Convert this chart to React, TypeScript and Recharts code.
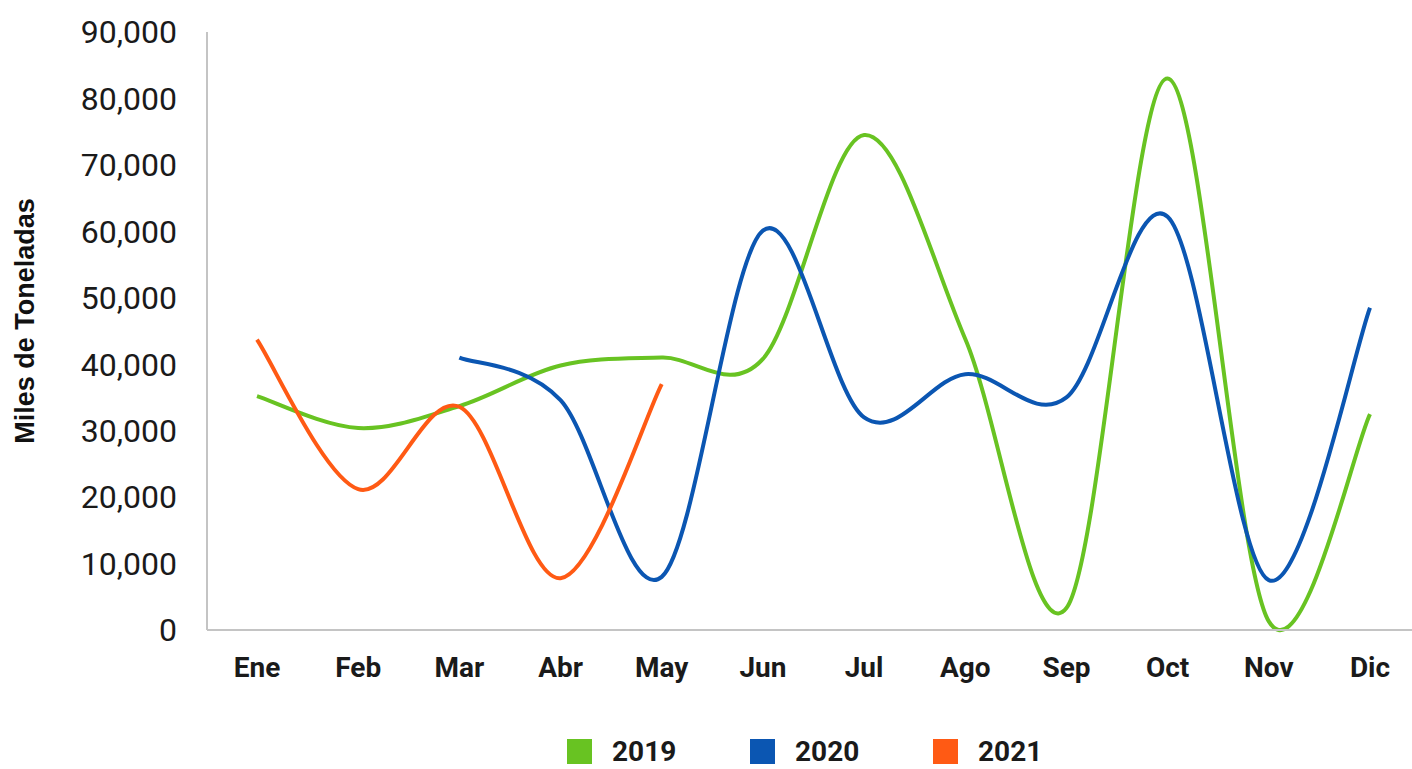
import { LineChart, Line, XAxis, YAxis, Legend } from 'recharts';

const months = ['Ene', 'Feb', 'Mar', 'Abr', 'May', 'Jun', 'Jul', 'Ago', 'Sep', 'Oct', 'Nov', 'Dic'];
const serie2019 = [35200, 30400, 33700, 39800, 41000, 40800, 74500, 43800, 3300, 83000, 1300, 32500];
const serie2020 = [null, null, 41000, 34600, 8000, 60100, 32000, 38500, 35000, 62200, 7500, 48500];
const serie2021 = [43700, 21200, 33600, 7800, 37000, null, null, null, null, null, null, null];
const yTicks = [0, 10000, 20000, 30000, 40000, 50000, 60000, 70000, 80000, 90000];

const series = [
  { key: 'y2019', name: '2019', color: '#68c322' },
  { key: 'y2020', name: '2020', color: '#0b56b2' },
  { key: 'y2021', name: '2021', color: '#ff5a14' },
];

const data = months.map((m, i) => ({
  month: m,
  y2019: serie2019[i],
  y2020: serie2020[i],
  y2021: serie2021[i],
}));

// Excel-like smoothing (Catmull-Rom, control points at 1/6)
const smoothCurve = (context: any) => {
  let pts: number[][] = [];
  return {
    areaStart() {},
    areaEnd() {},
    lineStart() {
      pts = [];
    },
    point(x: number, y: number) {
      pts.push([+x, +y]);
    },
    lineEnd() {
      const n = pts.length;
      if (!n) return;
      context.moveTo(pts[0][0], pts[0][1]);
      for (let i = 0; i < n - 1; i++) {
        const p0 = pts[Math.max(i - 1, 0)];
        const p1 = pts[i];
        const p2 = pts[i + 1];
        const p3 = pts[Math.min(i + 2, n - 1)];
        context.bezierCurveTo(
          p1[0] + (p2[0] - p0[0]) / 6,
          p1[1] + (p2[1] - p0[1]) / 6,
          p2[0] - (p3[0] - p1[0]) / 6,
          p2[1] - (p3[1] - p1[1]) / 6,
          p2[0],
          p2[1]
        );
      }
    },
  };
};

const LegendBox = () => (
  <div style={{ display: 'flex', alignItems: 'center', height: 36, paddingLeft: 567 }}>
    {series.map((s, i) => (
      <div key={s.key} style={{ display: 'flex', alignItems: 'center', marginLeft: i === 0 ? 0 : 73 }}>
        <span style={{ width: 25, height: 25, background: s.color, display: 'inline-block' }} />
        <span
          style={{
            marginLeft: 20,
            fontFamily: 'Roboto, sans-serif',
            fontWeight: 700,
            fontSize: 28,
            color: '#1a1a1a',
            width: 65,
          }}
        >
          {s.name}
        </span>
      </div>
    ))}
  </div>
);

export default function App() {
  return (
    <div
      style={{
        position: 'absolute',
        left: 0,
        top: 0,
        width: 1412,
        height: 769,
        overflow: 'hidden',
        background: '#fff',
      }}
    >
      <div
        style={{
          position: 'absolute',
          left: 25,
          top: 321,
          transform: 'translate(-50%, -50%) rotate(-90deg)',
          fontFamily: '"Liberation Sans", Arial, sans-serif',
          fontWeight: 700,
          fontSize: 27,
          color: '#111',
          whiteSpace: 'nowrap',
        }}
      >
        Miles de Toneladas
      </div>
      <LineChart width={1420} height={769} data={data} margin={{ top: 32, right: 0, left: 0, bottom: 0 }}>
        <XAxis
          dataKey="month"
          axisLine={{ stroke: '#c4c4c4', strokeWidth: 2 }}
          tickLine={false}
          tickMargin={21}
          height={103}
          interval={0}
          padding={{ left: 50, right: 50 }}
          tick={{ fill: '#1a1a1a', fontSize: 28, fontWeight: 700, fontFamily: 'Roboto, sans-serif' }}
        />
        <YAxis
          width={207}
          domain={[0, 90000]}
          ticks={yTicks}
          interval={0}
          axisLine={{ stroke: '#c4c4c4', strokeWidth: 2 }}
          tickLine={false}
          tickMargin={24}
          tickFormatter={(v: number) => v.toLocaleString('en-US')}
          tick={{ fill: '#1a1a1a', fontSize: 32, fontFamily: 'Roboto, sans-serif' }}
        />
        <Legend verticalAlign="bottom" content={<LegendBox />} />
        {series.map((s) => (
          <Line
            key={s.key}
            dataKey={s.key}
            name={s.name}
            type={smoothCurve as any}
            stroke={s.color}
            strokeWidth={4}
            dot={false}
            activeDot={false}
            isAnimationActive={false}
          />
        ))}
      </LineChart>
    </div>
  );
}
